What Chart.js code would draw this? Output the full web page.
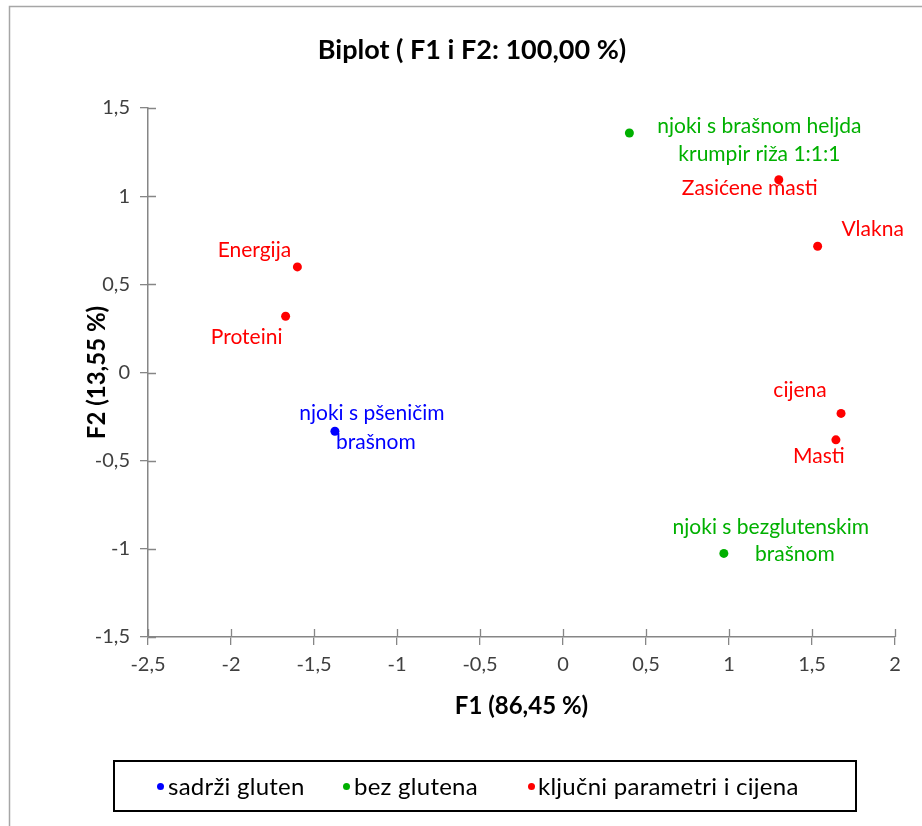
<!DOCTYPE html>
<html>
<head>
<meta charset="utf-8">
<script src="https://cdn.jsdelivr.net/npm/chart.js@4/dist/chart.umd.min.js"></script>
<style>
html,body{margin:0;padding:0;background:#fff;}
#wrap{position:relative;width:922px;height:826px;overflow:hidden;}
#chart{position:absolute;left:0;top:0;}
#legend{position:absolute;left:113px;top:760px;width:744px;height:52px;border:2px solid #000;box-sizing:border-box;font-family:Lato,"Noto Sans",sans-serif;font-size:24px;letter-spacing:0.25px;color:#000;}
.lg-dot{position:absolute;width:7px;height:7px;border-radius:50%;top:21px;}
.lg-txt{position:absolute;top:0;line-height:48px;white-space:nowrap;}
</style>
</head>
<body>
<div id="wrap">
<canvas id="chart" width="922" height="826"></canvas>
<div id="legend"></div>
</div>
<script>
// ---- data ----
const seriesNames = ['sadrži gluten', 'bez glutena', 'ključni parametri i cijena'];
const glutenLabels = ['njoki s pšeničim\nbrašnom'];
const glutenX = [-1.374];
const glutenY = [-0.333];
const glutenFreeLabels = ['njoki s brašnom heljda\nkrumpir riža 1:1:1', 'njoki s bezglutenskim\nbrašnom'];
const glutenFreeX = [0.40, 0.969];
const glutenFreeY = [1.358, -1.026];
const paramLabels = ['Zasićene masti', 'Vlakna', 'Energija', 'Proteini', 'cijena', 'Masti'];
const paramX = [1.30, 1.534, -1.600, -1.671, 1.675, 1.644];
const paramY = [1.093, 0.716, 0.599, 0.319, -0.232, -0.382];
const xTicks = [-2.5, -2, -1.5, -1, -0.5, 0, 0.5, 1, 1.5, 2];
const yTicks = [-1.5, -1, -0.5, 0, 0.5, 1, 1.5];
const chartTitle = 'Biplot ( F1 i F2: 100,00 %)';
const xTitle = 'F1 (86,45 %)';
const yTitle = 'F2 (13,55 %)';

// ---- styles ----
const colors = ['#0000ff', '#00b000', '#ff0000'];
// label line offsets (pixels from point) – styling only
const labelOffsets = {
  'njoki s pšeničim\nbrašnom': [[37, -18], [41, 11]],
  'njoki s brašnom heljda\nkrumpir riža 1:1:1': [[130, -7], [130, 21]],
  'njoki s bezglutenskim\nbrašnom': [[47, -26], [71, 1]],
  'Zasićene masti': [[-29, 8]],
  'Vlakna': [[55, -17]],
  'Energija': [[-43, -17]],
  'Proteini': [[-39, 21]],
  'cijena': [[-41, -23]],
  'Masti': [[-17, 16]]
};
const legendPos = [[160, 168], [346, 354], [531, 538]];
const titlePos = [472, 50];
const FONT = 'Lato, "Noto Sans", sans-serif';

function pts(xs, ys) { return xs.map((x, i) => ({ x: x, y: ys[i] })); }
const fmt = v => String(v).replace('.', ',');

const frame = {
  id: 'frame',
  beforeDraw(chart) {
    const c = chart.ctx;
    c.save();
    c.strokeStyle = '#a6a6a6';
    c.lineWidth = 1.5;
    c.beginPath();
    c.moveTo(9.5, 826); c.lineTo(9.5, 6.5); c.lineTo(922, 6.5);
    c.stroke();
    c.fillStyle = '#000';
    c.font = 'bold 27px ' + FONT;
    c.textAlign = 'center';
    c.textBaseline = 'middle';
    c.fillText(chartTitle, titlePos[0], titlePos[1]);
    c.restore();
  }
};

const crossTicks = {
  id: 'crossTicks',
  afterDraw(chart) {
    const c = chart.ctx, a = chart.chartArea;
    const xs = chart.scales.x, ys = chart.scales.y;
    c.save();
    c.strokeStyle = '#868686';
    c.lineWidth = 1.3;
    c.beginPath();
    xTicks.forEach(v => { const px = Math.round(xs.getPixelForValue(v)) + 0.5; c.moveTo(px, a.bottom); c.lineTo(px, a.bottom - 8); });
    yTicks.forEach(v => { const py = Math.round(ys.getPixelForValue(v)) + 0.5; c.moveTo(a.left, py); c.lineTo(a.left + 8, py); });
    c.stroke();
    c.restore();
  }
};

const pointLabels = {
  id: 'pointLabels',
  afterDatasetsDraw(chart) {
    const c = chart.ctx;
    c.save();
    c.font = '21px ' + FONT;
    c.textAlign = 'center';
    c.textBaseline = 'middle';
    chart.data.datasets.forEach((ds, di) => {
      const meta = chart.getDatasetMeta(di);
      meta.data.forEach((el, i) => {
        const label = ds.pointNames[i];
        const lines = label.split('\n');
        const offs = labelOffsets[label] || lines.map((l, k) => [0, -14 + k * 28]);
        c.fillStyle = ds.backgroundColor;
        lines.forEach((ln, k) => c.fillText(ln, el.x + offs[k][0], el.y + offs[k][1]));
      });
    });
    c.restore();
  }
};

const axisCommon = {
  type: 'linear',
  grid: { display: true, drawOnChartArea: false, drawTicks: true, tickLength: 8, color: '#868686', lineWidth: 1.3 },
  border: { display: true, color: '#868686', width: 1.5 },
};

new Chart(document.getElementById('chart'), {
  type: 'scatter',
  data: {
    datasets: [
      { label: seriesNames[0], data: pts(glutenX, glutenY), pointNames: glutenLabels, backgroundColor: colors[0], borderColor: colors[0] },
      { label: seriesNames[1], data: pts(glutenFreeX, glutenFreeY), pointNames: glutenFreeLabels, backgroundColor: colors[1], borderColor: colors[1] },
      { label: seriesNames[2], data: pts(paramX, paramY), pointNames: paramLabels, backgroundColor: colors[2], borderColor: colors[2] }
    ]
  },
  options: {
    responsive: false,
    animation: false,
    devicePixelRatio: 1,
    elements: { point: { radius: 4.5, borderWidth: 0, pointStyle: 'circle' } },
    layout: { padding: { left: 10, right: 27, top: 108, bottom: 105 } },
    plugins: {
      legend: { display: false },
      tooltip: { enabled: false },
      title: { display: false }
    },
    scales: {
      x: Object.assign({}, axisCommon, {
        min: -2.5, max: 2,
        afterBuildTicks: s => { s.ticks = xTicks.map(v => ({ value: v })); },
        afterFit: s => { s.height = 84; },
        ticks: { color: '#404040', padding: 8, font: { family: FONT, size: 20 }, callback: v => fmt(v), maxRotation: 0 },
        title: { display: true, text: xTitle, color: '#000', font: { family: FONT, size: 24, weight: 'bold' }, padding: { top: 0, bottom: 0 } }
      }),
      y: Object.assign({}, axisCommon, {
        min: -1.5, max: 1.5,
        afterBuildTicks: s => { s.ticks = yTicks.map(v => ({ value: v })); },
        afterFit: s => { s.width = 138; },
        ticks: { color: '#404040', padding: 10, font: { family: FONT, size: 20 }, callback: v => fmt(v) },
        title: { display: true, text: yTitle, color: '#000', font: { family: FONT, size: 24, weight: 'bold' }, padding: { top: 72.6, bottom: 0 } }
      })
    }
  },
  plugins: [frame, crossTicks, pointLabels]
});

// legend built from the series names
const lg = document.getElementById('legend');
seriesNames.forEach((n, i) => {
  const d = document.createElement('div');
  d.className = 'lg-dot';
  d.style.background = colors[i];
  d.style.left = (legendPos[i][0] - 113 - 2 - 3.5) + 'px';
  lg.appendChild(d);
  const t = document.createElement('div');
  t.className = 'lg-txt';
  t.textContent = n;
  t.style.left = (legendPos[i][1] - 113 - 2) + 'px';
  lg.appendChild(t);
});
</script>
</body>
</html>
